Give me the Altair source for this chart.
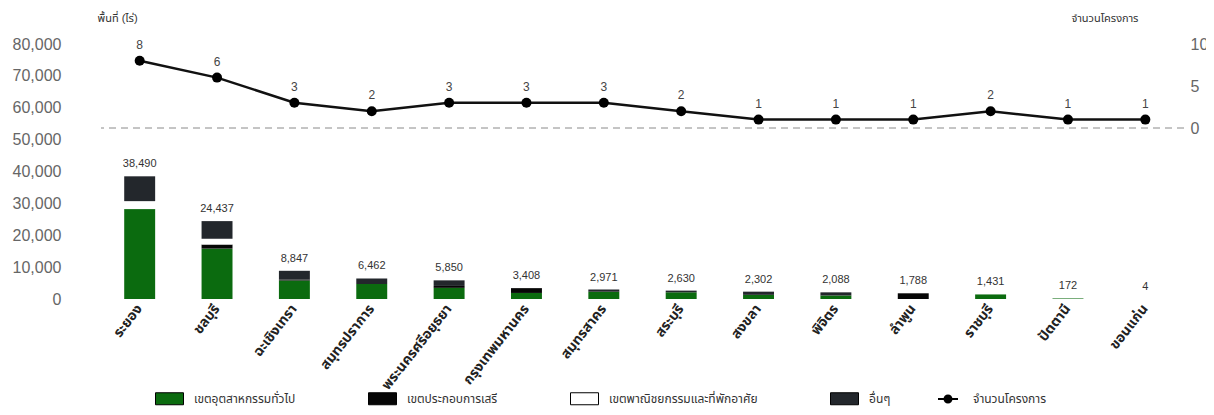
import altair as alt
import pandas as pd

provinces = ["ระยอง", "ชลบุรี", "ฉะเชิงเทรา", "สมุทรปราการ", "พระนครศรีอยุธยา",
             "กรุงเทพมหานคร", "สมุทรสาคร", "สระบุรี", "สงขลา", "พิจิตร",
             "ลำพูน", "ราชบุรี", "ปัตตานี", "ขอนแก่น"]
general = [28200, 15800, 5800, 4700, 3500, 1900, 2300, 2100, 1300, 1100, 0, 1431, 172, 4]
free_zone = [0, 1300, 300, 0, 600, 1508, 0, 0, 0, 0, 1788, 0, 0, 0]
commercial = [2500, 1800, 0, 0, 0, 0, 0, 0, 0, 0, 0, 0, 0, 0]
others = [7790, 5537, 2747, 1762, 1750, 0, 671, 530, 1002, 988, 0, 0, 0, 0]
totals = [38490, 24437, 8847, 6462, 5850, 3408, 2971, 2630, 2302, 2088, 1788, 1431, 172, 4]
projects = [8, 6, 3, 2, 3, 3, 3, 2, 1, 1, 1, 2, 1, 1]
area_ticks = [0, 10000, 20000, 30000, 40000, 50000, 60000, 70000, 80000]
count_ticks = [0, 5, 10]

cat_names = ["เขตอุตสาหกรรมทั่วไป", "เขตประกอบการเสรี", "เขตพาณิชยกรรมและที่พักอาศัย", "อื่นๆ"]
cat_colors = ["#0b6b0f", "#060606", "#ffffff", "#23272c"]
series_name = "จำนวนโครงการ"

rows = []
for i, p in enumerate(provinces):
    for k, vals in enumerate([general, free_zone, commercial, others]):
        rows.append({"province": p, "category": cat_names[k], "value": vals[i], "ord": k})
df_long = pd.DataFrame(rows)
df_sum = pd.DataFrame({"province": provinces, "total": totals, "projects": projects,
                       "series": [series_name] * len(provinces)})
df_zero = pd.DataFrame({"zero": [0]})

FONT = "Liberation Sans, Noto Sans Thai, Noto Sans, sans-serif"

x_enc = alt.X("province:N", sort=provinces,
              scale=alt.Scale(paddingInner=0.6, paddingOuter=0.3),
              axis=alt.Axis(title=None, labelAngle=-52, labelFontSize=14, labelFontWeight="bold",
                            labelColor="#222", ticks=False, domain=False, labelPadding=7,
                            labelLimit=200))

area_axis = alt.Axis(values=area_ticks, labelExpr="format(datum.value, ',')", title="พื้นที่ (ไร่)",
                     titleAngle=0, titleX=-4, titleY=-26, titleAlign="left", titleBaseline="middle",
                     titleFontSize=11, titleFontWeight="normal", titleColor="#333",
                     grid=False, ticks=False, domain=False, labelPadding=40,
                     labelFontSize=16, labelColor="#666")
area_scale = alt.Scale(domain=[0, 80000])

count_axis = alt.Axis(values=count_ticks, orient="right", title=series_name,
                      titleAngle=0, titleX=-46, titleY=-26, titleAlign="right", titleBaseline="middle",
                      titleFontSize=11, titleFontWeight="normal", titleColor="#333",
                      grid=False, ticks=False, domain=False, labelPadding=6,
                      labelFontSize=16, labelColor="#666")
count_scale = alt.Scale(domain=[0, 10], range=[84, 0])

rect_path = "M-1.4,-0.6H1.4V0.6H-1.4Z"
line_dot_path = ("M-1,-0.09H-0.4V0.09H-1Z M0.4,-0.09H1V0.09H0.4Z "
                 "M0.45,0A0.45,0.45,0,1,1,-0.45,0A0.45,0.45,0,1,1,0.45,0Z")

bars = alt.Chart(df_long).mark_bar().encode(
    x=x_enc,
    y=alt.Y("value:Q", stack="zero", scale=area_scale, axis=area_axis),
    color=alt.Color("category:N", scale=alt.Scale(domain=cat_names, range=cat_colors),
                    legend=alt.Legend(title=None, orient="none", legendX=58, legendY=344,
                                      direction="horizontal", symbolType=rect_path, symbolSize=400,
                                      symbolStrokeColor="#000", symbolStrokeWidth=1,
                                      labelFontSize=12, labelColor="#333", labelOffset=14,
                                      columnPadding=70, labelLimit=300)),
    order=alt.Order("ord:Q", sort="ascending"),
)

bar_labels = alt.Chart(df_sum).mark_text(baseline="bottom", dy=-7, fontSize=11, color="#333").encode(
    x=x_enc,
    y=alt.Y("total:Q", scale=area_scale, axis=area_axis),
    text=alt.Text("total:Q", format=","),
)

rule = alt.Chart(df_zero).mark_rule(strokeDash=[7, 5], color="#8a8a8a", strokeWidth=1).encode(
    y=alt.Y("zero:Q", scale=count_scale, axis=count_axis),
)

line = alt.Chart(df_sum).mark_line(color="#111", strokeWidth=2.5).encode(
    x=x_enc,
    y=alt.Y("projects:Q", scale=count_scale, axis=count_axis),
)

points = alt.Chart(df_sum).mark_point(filled=True, fill="#000", size=100, opacity=1).encode(
    x=x_enc,
    y=alt.Y("projects:Q", scale=count_scale, axis=count_axis),
    opacity=alt.Opacity("series:N", scale=alt.Scale(domain=[series_name], range=[1]),
                        legend=alt.Legend(title=None, orient="none", legendX=836, legendY=344,
                                          symbolType=line_dot_path, symbolSize=400,
                                          symbolFillColor="#000", labelFontSize=12,
                                          labelColor="#333", labelOffset=14)),
)

point_labels = alt.Chart(df_sum).mark_text(dy=-16, fontSize=12, color="#444").encode(
    x=x_enc,
    y=alt.Y("projects:Q", scale=count_scale, axis=count_axis),
    text=alt.Text("projects:Q"),
)

area_layer = alt.layer(bars, bar_labels)
count_layer = alt.layer(rule, line, points, point_labels)

chart = alt.layer(area_layer, count_layer).resolve_scale(y="independent").properties(
    width=1083, height=255,
    padding={"left": 93, "top": 36, "right": 22, "bottom": 108},
    autosize=alt.AutoSizeParams(type="none"),
).configure(font=FONT).configure_view(stroke=None)

chart.save("out.html", embed_options={"renderer": "svg", "actions": False})
